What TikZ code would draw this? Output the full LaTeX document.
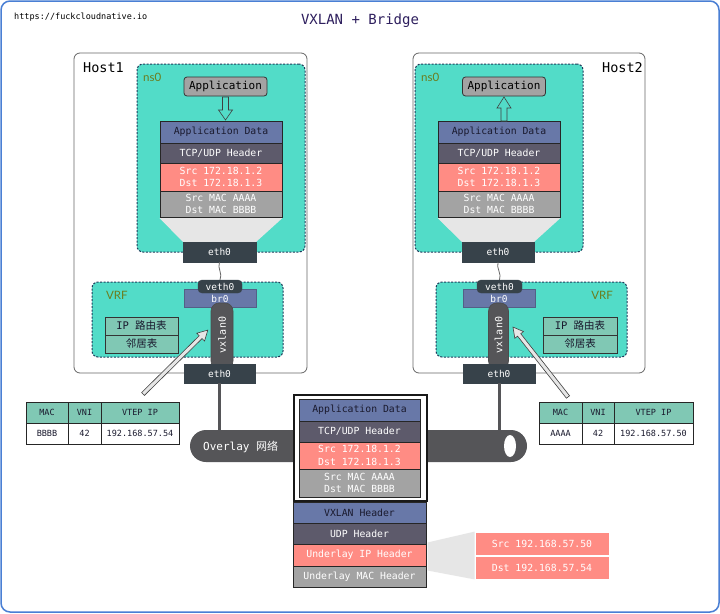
\documentclass[tikz,border=0pt]{standalone}
\usepackage{fontspec}
\setmainfont{Lato}
\setmonofont{DejaVu Sans Mono}
\newfontfamily\cjk{Noto Sans CJK SC}
\usetikzlibrary{calc,shapes.geometric}
\definecolor{frameblue}{HTML}{4A7FD4}
\definecolor{titlepurple}{HTML}{2E1F5E}
\definecolor{tealfill}{HTML}{52DCC8}
\definecolor{dotblue}{HTML}{1F3A5A}
\definecolor{tablegreen}{HTML}{80C8B4}
\definecolor{cslate}{HTML}{6878A8}
\definecolor{cpurple}{HTML}{5D5A6B}
\definecolor{csalmon}{HTML}{FF8C84}
\definecolor{cgray}{HTML}{A3A3A3}
\definecolor{cdarknode}{HTML}{37424A}
\definecolor{cdarktext}{HTML}{1A1A2E}
\definecolor{cpipe}{HTML}{555558}
\definecolor{olivelbl}{HTML}{6B7D1E}
\definecolor{traplight}{HTML}{E6E6E6}
\definecolor{hostline}{HTML}{666666}
\tikzset{
  hostbox/.style={draw=hostline, line width=0.8pt, rounded corners=6pt, fill=white, inner sep=0},
  nsbox/.style={draw=dotblue, line width=1pt, dash pattern=on 2pt off 1.5pt, rounded corners=6pt, fill=tealfill, inner sep=0},
  hosttitle/.style={font=\ttfamily\fontsize{13.5}{15}\selectfont, text=black, inner sep=0},
  nslabel/.style={font=\fontsize{11.5}{13}\selectfont, text=olivelbl, inner sep=0},
  cell/.style={draw=black!85, line width=1pt, inner sep=0, align=center, text=white, font=\ttfamily\fontsize{9.8}{12.5}\selectfont},
  appbox/.style={draw=black!80, line width=0.8pt, rounded corners=3pt, fill=cgray, inner sep=0, font=\ttfamily\fontsize{11}{13}\selectfont, minimum width=83pt, minimum height=19pt},
  darknode/.style={fill=cdarknode, draw=cdarknode, inner sep=0, text=white, font=\ttfamily\fontsize{9.5}{11}\selectfont},
  tcell/.style={draw=black!85, line width=0.8pt, inner sep=0, font=\ttfamily\fontsize{8.5}{10}\selectfont, text=cdarktext},
  rtcell/.style={draw=black!80, line width=0.8pt, fill=tablegreen, inner sep=0, font=\ttfamily\fontsize{10.5}{12}\selectfont, text=cdarktext, minimum height=18pt},
  hollowarrow/.style={fill=traplight, draw=black!75, line width=0.6pt, line join=miter},
  wire/.style={draw=hostline, line width=0.8pt},
  thickwire/.style={draw=cpipe, line width=3pt},
  smalllbl/.style={inner sep=0, text=white, font=\ttfamily\fontsize{9.5}{10}\selectfont},
}
\begin{document}
\begin{tikzpicture}[x=1pt,y=-1pt]
\useasboundingbox (0,0) rectangle (720,613);
% outer frame
\draw[frameblue, line width=1.5pt, rounded corners=9pt, fill=white] (1,1) rectangle (719,612);
\node[anchor=west, inner sep=0, font=\ttfamily\fontsize{8.5}{10}\selectfont] (url) at (14,17) {https://fuckcloudnative.io};
\node[inner sep=0, text=titlepurple, font=\ttfamily\fontsize{14}{16}\selectfont] (title) at (360,21) {VXLAN + Bridge};

% host boxes
\node[hostbox, minimum width=233pt, minimum height=320pt] (host1) at (190.5,213) {};
\node[hostbox, minimum width=232pt, minimum height=320pt] (host2) at (529,213) {};
\node[hosttitle, anchor=west] (h1t) at (83,68) {Host1};
\node[hosttitle, anchor=east] (h2t) at (643,68) {Host2};

% ns0 boxes
\node[nsbox, minimum width=168pt, minimum height=188pt] (ns1) at (221,158) {};
\node[nsbox, minimum width=168pt, minimum height=188pt] (ns2) at (499,158) {};
\node[nslabel, anchor=west] (ns1l) at (143,77) {ns0};
\node[nslabel, anchor=west] (ns2l) at (421,77) {ns0};

% VRF boxes
\node[nsbox, minimum width=191pt, minimum height=75pt] (vrf1) at (187.5,319.5) {};
\node[nsbox, minimum width=191pt, minimum height=75pt] (vrf2) at (531.5,319.5) {};
\node[nslabel, anchor=west] (vrf1l) at (106,295) {VRF};
\node[nslabel, anchor=east] (vrf2l) at (613,295) {VRF};

% Application boxes
\node[appbox] (app1) at (225.5,86.5) {Application};
\node[appbox] (app2) at (504,86.5) {Application};

% host1 stack
\node[cell, fill=cslate, text=cdarktext, minimum width=122pt, minimum height=22pt] (ad1) at (221,132) {Application Data};
\node[cell, fill=cpurple, minimum width=122pt, minimum height=20pt] (tcp1) at (221,153) {TCP/UDP Header};
\node[cell, fill=csalmon, minimum width=122pt, minimum height=28pt] (ip1) at (221,177) {Src 172.18.1.2\\Dst 172.18.1.3};
\node[cell, fill=cgray, minimum width=122pt, minimum height=26pt] (mac1) at (221,204) {Src MAC AAAA\\Dst MAC BBBB};
% host2 stack
\node[cell, fill=cslate, text=cdarktext, minimum width=122pt, minimum height=22pt] (ad2) at (499,132) {Application Data};
\node[cell, fill=cpurple, minimum width=122pt, minimum height=20pt] (tcp2) at (499,153) {TCP/UDP Header};
\node[cell, fill=csalmon, minimum width=122pt, minimum height=28pt] (ip2) at (499,177) {Src 172.18.1.2\\Dst 172.18.1.3};
\node[cell, fill=cgray, minimum width=122pt, minimum height=26pt] (mac2) at (499,204) {Src MAC AAAA\\Dst MAC BBBB};

% eth0 top
\node[darknode, minimum width=73pt, minimum height=20pt] (eth1a) at (219.5,252) {eth0};
\node[darknode, minimum width=72pt, minimum height=20pt] (eth2a) at (498,252) {eth0};

% trapezoids
\fill[traplight] ($(mac1.south west)+(0,0.5)$) -- ($(mac1.south east)+(0,0.5)$) -- (eth1a.north east) -- (eth1a.north west) -- cycle;
\fill[traplight] ($(mac2.south west)+(0,0.5)$) -- ($(mac2.south east)+(0,0.5)$) -- (eth2a.north east) -- (eth2a.north west) -- cycle;

% app arrows
\draw[hollowarrow, fill=tealfill] (222.5,97) -- (228.5,97) -- (228.5,110) -- (232.5,110) -- (225.5,120) -- (218.5,110) -- (222.5,110) -- cycle;
\draw[hollowarrow, fill=tealfill] (501,121) -- (507,121) -- (507,108) -- (511,108) -- (504,97) -- (497,108) -- (501,108) -- cycle;

% br0 / veth0 / vxlan0
\node[fill=cslate, draw=cslate!80!black, line width=0.5pt, minimum width=72pt, minimum height=18pt, inner sep=0] (br1) at (220,298) {};
\node[fill=cslate, draw=cslate!80!black, line width=0.5pt, minimum width=72pt, minimum height=18pt, inner sep=0] (br2) at (499,298) {};
\node[darknode, fill=cpipe, draw=black!70, line width=0.6pt, rounded corners=8pt, minimum width=22pt, minimum height=66pt] (vx1) at (222,336) {};
\node[smalllbl, rotate=90, font=\ttfamily\fontsize{10}{11}\selectfont] (vx1l) at (222,335) {vxlan0};
\node[darknode, fill=cpipe, draw=black!70, line width=0.6pt, rounded corners=8pt, minimum width=20pt, minimum height=66pt] (vx2) at (498.5,336) {};
\node[smalllbl, rotate=90, font=\ttfamily\fontsize{10}{11}\selectfont] (vx2l) at (498.5,335) {vxlan0};
\node[smalllbl] (br1l) at (220,298.5) {br0};
\node[smalllbl] (br2l) at (499,298.5) {br0};
\node[darknode, rounded corners=4pt, minimum width=44pt, minimum height=13pt, font=\ttfamily\fontsize{9.5}{10}\selectfont] (veth1) at (220,286.5) {veth0};
\node[darknode, rounded corners=4pt, minimum width=45pt, minimum height=13pt, font=\ttfamily\fontsize{9.5}{10}\selectfont] (veth2) at (499.5,286.5) {veth0};

% wavy links eth0 -> veth0
\draw[wire] (eth1a.south) .. controls (217,268) and (223,274) .. (veth1.north);
\draw[wire] (eth2a.south) .. controls (496,268) and (502,274) .. (veth2.north);

% routing tables
\node[rtcell, minimum width=73pt] (rt1) at (141.5,326) {IP {\cjk 路由表}};
\node[rtcell, minimum width=73pt] (nb1) at (141.5,344) {\cjk 邻居表};
\node[rtcell, minimum width=74pt] (rt2) at (580,326) {IP {\cjk 路由表}};
\node[rtcell, minimum width=74pt] (nb2) at (580,344) {\cjk 邻居表};

% eth0 bottom
\node[darknode, minimum width=71pt, minimum height=19pt] (eth1b) at (219.5,373.5) {eth0};
\node[darknode, minimum width=72pt, minimum height=19pt] (eth2b) at (499,373.5) {eth0};

% pipe
\draw[thickwire] (eth1b.south) -- (219.5,432);
\draw[thickwire] (eth2b.south) -- (499,432);
\node[fill=cpipe, rounded corners=16pt, minimum width=337pt, minimum height=32pt, inner sep=0] (pipe) at (358.5,446) {};
\node[anchor=west, inner sep=0, text=white, font=\ttfamily\fontsize{11}{13}\selectfont] (ovl) at (203,447) {Overlay {\cjk 网络}};
\node[ellipse, fill=white, minimum width=12pt, minimum height=22pt, inner sep=0] (hole) at (510,446) {};

% hollow diagonal arrows
\begin{scope}[shift={(143,394)}, rotate=44.6]
\draw[hollowarrow] (0,-2) -- (81,-2) -- (81,-5.5) -- (91,0) -- (81,5.5) -- (81,2) -- (0,2) -- cycle;
\end{scope}
\begin{scope}[shift={(568,397)}, rotate=128.2]
\draw[hollowarrow] (0,-2) -- (79,-2) -- (79,-5.5) -- (89,0) -- (79,5.5) -- (79,2) -- (0,2) -- cycle;
\end{scope}

% FDB tables
\node[tcell, fill=tablegreen, minimum width=42pt, minimum height=21pt] (l11) at (47,412.5) {MAC};
\node[tcell, fill=tablegreen, minimum width=33pt, minimum height=21pt] (l12) at (84.5,412.5) {VNI};
\node[tcell, fill=tablegreen, minimum width=78pt, minimum height=21pt] (l13) at (140,412.5) {VTEP IP};
\node[tcell, fill=white, minimum width=42pt, minimum height=21pt] (l21) at (47,433.5) {BBBB};
\node[tcell, fill=white, minimum width=33pt, minimum height=21pt] (l22) at (84.5,433.5) {42};
\node[tcell, fill=white, minimum width=78pt, minimum height=21pt] (l23) at (140,433.5) {192.168.57.54};
\node[tcell, fill=tablegreen, minimum width=43pt, minimum height=21pt] (r11) at (560.5,412.5) {MAC};
\node[tcell, fill=tablegreen, minimum width=32pt, minimum height=21pt] (r12) at (598,412.5) {VNI};
\node[tcell, fill=tablegreen, minimum width=79pt, minimum height=21pt] (r13) at (653.5,412.5) {VTEP IP};
\node[tcell, fill=white, minimum width=43pt, minimum height=21pt] (r21) at (560.5,433.5) {AAAA};
\node[tcell, fill=white, minimum width=32pt, minimum height=21pt] (r22) at (598,433.5) {42};
\node[tcell, fill=white, minimum width=79pt, minimum height=21pt] (r23) at (653.5,433.5) {192.168.57.50};

% center packet
\node[draw=black!90, line width=2pt, fill=white, minimum width=133pt, minimum height=106pt, inner sep=0] (outer) at (360,447.5) {};
\node[cell, fill=cslate, text=cdarktext, minimum width=121pt, minimum height=22pt] (cad) at (359.5,410) {Application Data};
\node[cell, fill=cpurple, minimum width=121pt, minimum height=21pt] (ctcp) at (359.5,431.5) {TCP/UDP Header};
\node[cell, fill=csalmon, minimum width=121pt, minimum height=27pt] (cip) at (359.5,455.5) {Src 172.18.1.2\\Dst 172.18.1.3};
\node[cell, fill=cgray, minimum width=121pt, minimum height=28pt] (cmac) at (359.5,483) {Src MAC AAAA\\Dst MAC BBBB};
\node[cell, fill=cslate, text=cdarktext, minimum width=133pt, minimum height=21pt] (vxh) at (359.5,512.5) {VXLAN Header};
\node[cell, fill=cpurple, minimum width=133pt, minimum height=21pt] (udph) at (359.5,533.5) {UDP Header};
\node[cell, fill=csalmon, minimum width=133pt, minimum height=22pt] (uiph) at (359.5,555) {Underlay IP Header};
\node[cell, fill=cgray, minimum width=133pt, minimum height=21pt] (umac) at (359.5,576.5) {Underlay MAC Header};

% underlay detail
\node[fill=csalmon, draw=white, line width=0.8pt, inner sep=0, text=white, font=\ttfamily\fontsize{9.8}{11}\selectfont, minimum width=134pt, minimum height=23pt] (usrc) at (542,543.5) {Src 192.168.57.50};
\node[fill=csalmon, draw=white, line width=0.8pt, inner sep=0, text=white, font=\ttfamily\fontsize{9.8}{11}\selectfont, minimum width=134pt, minimum height=23pt] (udst) at (542,567.5) {Dst 192.168.57.54};
\fill[traplight] ($(uiph.north east)+(1,-1)$) -- (usrc.north west) -- (udst.south west) -- ($(uiph.south east)+(1,4)$) -- cycle;
\end{tikzpicture}
\end{document}
